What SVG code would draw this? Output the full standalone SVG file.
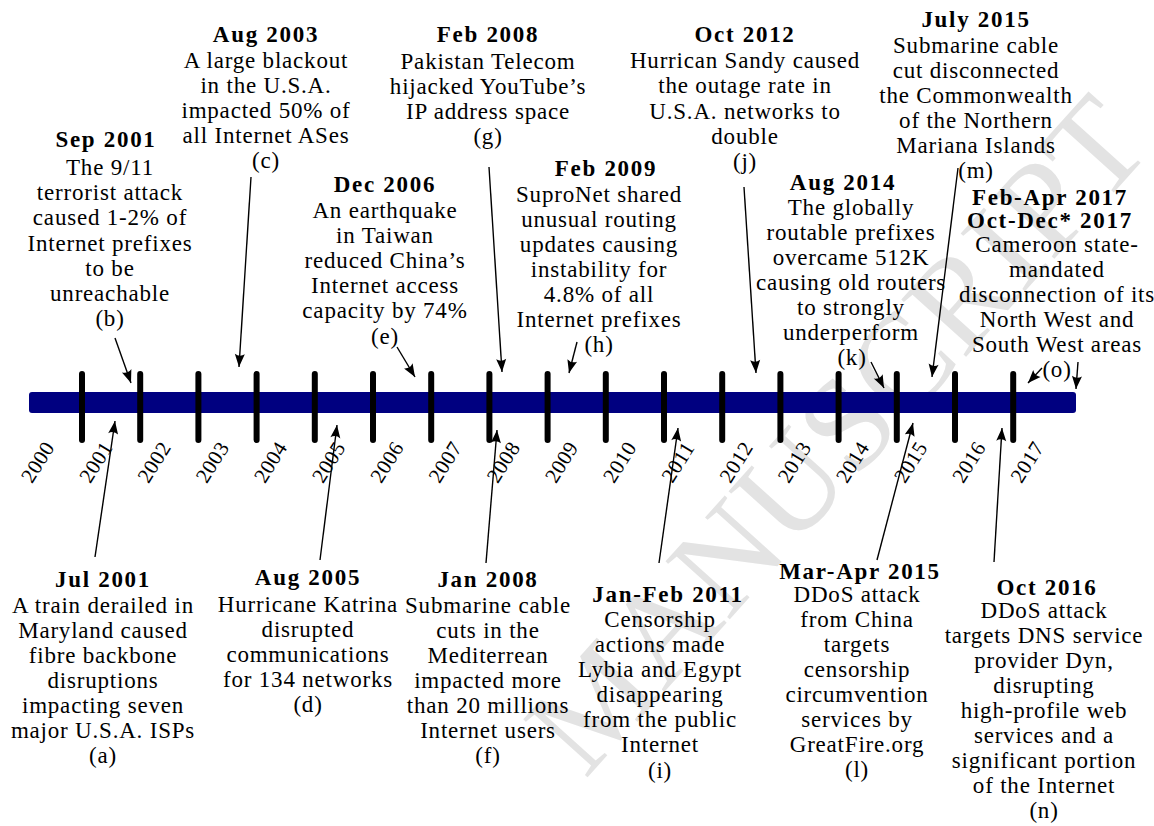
<svg xmlns="http://www.w3.org/2000/svg" width="1154" height="826" viewBox="0 0 1154 826">
  <style>
    .h { font-family: "Liberation Serif", "Times New Roman", serif; font-weight: bold; font-size: 23px; letter-spacing: 1.7px; text-anchor: middle; fill: #000; }
    .t { font-family: "Liberation Serif", "Times New Roman", serif; font-size: 23px; letter-spacing: 0.8px; text-anchor: middle; fill: #000; }
    .yr { font-family: "Liberation Serif", "Times New Roman", serif; font-size: 21px; letter-spacing: 0.5px; text-anchor: middle; fill: #000; }
    .wm { font-family: "Liberation Serif", "Times New Roman", serif; font-size: 132px; fill: #e3e3e3; }
    .arrow { stroke: #000; stroke-width: 1.4; fill: none; marker-end: url(#head); }
    .tick { stroke: #000; stroke-width: 6; stroke-linecap: round; }
  </style>
  <defs>
    <marker id="head" markerUnits="userSpaceOnUse" markerWidth="16" markerHeight="12" viewBox="-14 -6 16 12" refX="0" refY="0" orient="auto">
      <path d="M0,0 L-13,-5 Q-9.5,0 -13,5 Z" fill="#000"/>
    </marker>
  </defs>

  <rect width="1154" height="826" fill="#fff"/>

  <!-- diagonal watermark -->
  <g id="watermark" transform="translate(585,780) rotate(-48)">
    <text class="wm" x="0" y="0">MANUSCRIPT</text>
  </g>

  <!-- timeline bar, yearly ticks and year labels -->
  <g id="timeline">
    <rect x="29" y="392" width="1047" height="21" rx="3" fill="#000080"/>
    <line class="tick" x1="82" y1="374" x2="82" y2="440"/>
    <line class="tick" x1="140.2" y1="374" x2="140.2" y2="440"/>
    <line class="tick" x1="198.4" y1="374" x2="198.4" y2="440"/>
    <line class="tick" x1="256.6" y1="374" x2="256.6" y2="440"/>
    <line class="tick" x1="314.8" y1="374" x2="314.8" y2="440"/>
    <line class="tick" x1="373" y1="374" x2="373" y2="440"/>
    <line class="tick" x1="431.2" y1="374" x2="431.2" y2="440"/>
    <line class="tick" x1="489.4" y1="374" x2="489.4" y2="440"/>
    <line class="tick" x1="547.6" y1="374" x2="547.6" y2="440"/>
    <line class="tick" x1="605.8" y1="374" x2="605.8" y2="440"/>
    <line class="tick" x1="664" y1="374" x2="664" y2="440"/>
    <line class="tick" x1="722.2" y1="374" x2="722.2" y2="440"/>
    <line class="tick" x1="780.4" y1="374" x2="780.4" y2="440"/>
    <line class="tick" x1="838.6" y1="374" x2="838.6" y2="440"/>
    <line class="tick" x1="896.8" y1="374" x2="896.8" y2="440"/>
    <line class="tick" x1="955" y1="374" x2="955" y2="440"/>
    <line class="tick" x1="1013.2" y1="374" x2="1013.2" y2="440"/>
    <text class="yr" transform="translate(37.8,462) rotate(-58)" y="7">2000</text>
    <text class="yr" transform="translate(96,462) rotate(-58)" y="7">2001</text>
    <text class="yr" transform="translate(154.2,462) rotate(-58)" y="7">2002</text>
    <text class="yr" transform="translate(212.4,462) rotate(-58)" y="7">2003</text>
    <text class="yr" transform="translate(270.6,462) rotate(-58)" y="7">2004</text>
    <text class="yr" transform="translate(328.8,462) rotate(-58)" y="7">2005</text>
    <text class="yr" transform="translate(387,462) rotate(-58)" y="7">2006</text>
    <text class="yr" transform="translate(445.2,462) rotate(-58)" y="7">2007</text>
    <text class="yr" transform="translate(503.4,462) rotate(-58)" y="7">2008</text>
    <text class="yr" transform="translate(561.6,462) rotate(-58)" y="7">2009</text>
    <text class="yr" transform="translate(619.8,462) rotate(-58)" y="7">2010</text>
    <text class="yr" transform="translate(678,462) rotate(-58)" y="7">2011</text>
    <text class="yr" transform="translate(736.2,462) rotate(-58)" y="7">2012</text>
    <text class="yr" transform="translate(794.4,462) rotate(-58)" y="7">2013</text>
    <text class="yr" transform="translate(852.6,462) rotate(-58)" y="7">2014</text>
    <text class="yr" transform="translate(910.8,462) rotate(-58)" y="7">2015</text>
    <text class="yr" transform="translate(969,462) rotate(-58)" y="7">2016</text>
    <text class="yr" transform="translate(1027.2,462) rotate(-58)" y="7">2017</text>
  </g>

  <!-- arrows from each event to its point on the timeline -->
  <g id="connectors">
    <line class="arrow" x1="95" y1="557" x2="115" y2="421"/>
    <line class="arrow" x1="115" y1="338" x2="131" y2="383"/>
    <line class="arrow" x1="251" y1="177" x2="239" y2="367"/>
    <line class="arrow" x1="320" y1="560" x2="337" y2="425"/>
    <line class="arrow" x1="397" y1="347" x2="415" y2="377"/>
    <line class="arrow" x1="486" y1="563" x2="497" y2="430"/>
    <line class="arrow" x1="489" y1="167" x2="502" y2="372"/>
    <line class="arrow" x1="577" y1="342" x2="569" y2="373"/>
    <line class="arrow" x1="659" y1="563" x2="678" y2="428"/>
    <line class="arrow" x1="744" y1="187" x2="756" y2="373"/>
    <line class="arrow" x1="871" y1="362" x2="884" y2="388"/>
    <line class="arrow" x1="877" y1="560" x2="913" y2="423"/>
    <line class="arrow" x1="958" y1="168" x2="932" y2="377"/>
    <line class="arrow" x1="994" y1="562" x2="1002" y2="428"/>
    <line class="arrow" x1="1042" y1="368" x2="1028" y2="383"/>
    <line class="arrow" x1="1078" y1="362" x2="1076" y2="389"/>
  </g>

  <g id="node-a">
    <text class="h" x="103" y="587">Jul 2001</text>
    <text class="t"><tspan x="103" y="613">A train derailed in</tspan><tspan x="103" y="638">Maryland caused</tspan><tspan x="103" y="663">fibre backbone</tspan><tspan x="103" y="688">disruptions</tspan><tspan x="103" y="713">impacting seven</tspan><tspan x="103" y="738">major U.S.A. ISPs</tspan><tspan x="103" y="763">(a)</tspan></text>
  </g>

  <g id="node-b">
    <text class="h" x="106" y="147">Sep 2001</text>
    <text class="t"><tspan x="110" y="175">The 9/11</tspan><tspan x="110" y="200">terrorist attack</tspan><tspan x="110" y="225">caused 1-2% of</tspan><tspan x="110" y="250.5">Internet prefixes</tspan><tspan x="110" y="275.5">to be</tspan><tspan x="110" y="301">unreachable</tspan><tspan x="110" y="326">(b)</tspan></text>
  </g>

  <g id="node-c">
    <text class="h" x="266" y="42">Aug 2003</text>
    <text class="t"><tspan x="266" y="68">A large blackout</tspan><tspan x="266" y="93">in the U.S.A.</tspan><tspan x="266" y="118">impacted 50% of</tspan><tspan x="266" y="143">all Internet ASes</tspan><tspan x="266" y="168">(c)</tspan></text>
  </g>

  <g id="node-d">
    <text class="h" x="308" y="585">Aug 2005</text>
    <text class="t"><tspan x="308" y="612">Hurricane Katrina</tspan><tspan x="308" y="637">disrupted</tspan><tspan x="308" y="662">communications</tspan><tspan x="308" y="687">for 134 networks</tspan><tspan x="308" y="712">(d)</tspan></text>
  </g>

  <g id="node-e">
    <text class="h" x="385" y="192">Dec 2006</text>
    <text class="t"><tspan x="385" y="218">An earthquake</tspan><tspan x="385" y="243">in Taiwan</tspan><tspan x="385" y="268">reduced China’s</tspan><tspan x="385" y="293">Internet access</tspan><tspan x="385" y="318">capacity by 74%</tspan><tspan x="385" y="344">(e)</tspan></text>
  </g>

  <g id="node-f">
    <text class="h" x="488" y="587">Jan 2008</text>
    <text class="t"><tspan x="488" y="613">Submarine cable</tspan><tspan x="488" y="638">cuts in the</tspan><tspan x="488" y="663">Mediterrean</tspan><tspan x="488" y="688">impacted more</tspan><tspan x="488" y="713">than 20 millions</tspan><tspan x="488" y="738">Internet users</tspan><tspan x="488" y="763">(f)</tspan></text>
  </g>

  <g id="node-g">
    <text class="h" x="488" y="42">Feb 2008</text>
    <text class="t"><tspan x="488" y="69">Pakistan Telecom</tspan><tspan x="488" y="94">hijacked YouTube’s</tspan><tspan x="488" y="119">IP address space</tspan><tspan x="488" y="144">(g)</tspan></text>
  </g>

  <g id="node-h">
    <text class="h" x="606" y="176">Feb 2009</text>
    <text class="t"><tspan x="599" y="202">SuproNet shared</tspan><tspan x="599" y="227">unusual routing</tspan><tspan x="599" y="252">updates causing</tspan><tspan x="599" y="277">instability for</tspan><tspan x="599" y="302">4.8% of all</tspan><tspan x="599" y="327">Internet prefixes</tspan><tspan x="599" y="352">(h)</tspan></text>
  </g>

  <g id="node-i">
    <text class="h" x="668" y="602">Jan-Feb 2011</text>
    <text class="t"><tspan x="660" y="627">Censorship</tspan><tspan x="660" y="652">actions made</tspan><tspan x="660" y="677">Lybia and Egypt</tspan><tspan x="660" y="702">disappearing</tspan><tspan x="660" y="727">from the public</tspan><tspan x="660" y="752">Internet</tspan><tspan x="660" y="778">(i)</tspan></text>
  </g>

  <g id="node-j">
    <text class="h" x="745" y="42">Oct 2012</text>
    <text class="t"><tspan x="745" y="68">Hurrican Sandy caused</tspan><tspan x="745" y="93">the outage rate in</tspan><tspan x="745" y="119">U.S.A. networks to</tspan><tspan x="745" y="144">double</tspan><tspan x="745" y="169">(j)</tspan></text>
  </g>

  <g id="node-k">
    <text class="h" x="843" y="190">Aug 2014</text>
    <text class="t"><tspan x="851" y="215">The globally</tspan><tspan x="851" y="240">routable prefixes</tspan><tspan x="851" y="265">overcame 512K</tspan><tspan x="851" y="290">causing old routers</tspan><tspan x="851" y="315">to strongly</tspan><tspan x="851" y="340">underperform</tspan><tspan x="852" y="365">(k)</tspan></text>
  </g>

  <g id="node-l">
    <text class="h" x="860" y="579">Mar-Apr 2015</text>
    <text class="t"><tspan x="857" y="602">DDoS attack</tspan><tspan x="857" y="627">from China</tspan><tspan x="857" y="652">targets</tspan><tspan x="857" y="677">censorship</tspan><tspan x="857" y="702">circumvention</tspan><tspan x="857" y="727">services by</tspan><tspan x="857" y="752">GreatFire.org</tspan><tspan x="857" y="777">(l)</tspan></text>
  </g>

  <g id="node-m">
    <text class="h" x="976" y="27">July 2015</text>
    <text class="t"><tspan x="976" y="53">Submarine cable</tspan><tspan x="976" y="78">cut disconnected</tspan><tspan x="976" y="103">the Commonwealth</tspan><tspan x="976" y="128">of the Northern</tspan><tspan x="976" y="153">Mariana Islands</tspan><tspan x="976" y="178">(m)</tspan></text>
  </g>

  <g id="node-n">
    <text class="h" x="1047" y="595">Oct 2016</text>
    <text class="t"><tspan x="1044" y="618">DDoS attack</tspan><tspan x="1044" y="643">targets DNS service</tspan><tspan x="1044" y="668">provider Dyn,</tspan><tspan x="1044" y="693">disrupting</tspan><tspan x="1044" y="718">high-profile web</tspan><tspan x="1044" y="743">services and a</tspan><tspan x="1044" y="768">significant portion</tspan><tspan x="1044" y="793">of the Internet</tspan><tspan x="1044" y="818">(n)</tspan></text>
  </g>

  <g id="node-o">
    <text class="h"><tspan x="1050" y="205">Feb-Apr 2017</tspan><tspan x="1050" y="228">Oct-Dec* 2017</tspan></text>
    <text class="t"><tspan x="1057" y="252">Cameroon state-</tspan><tspan x="1057" y="277">mandated</tspan><tspan x="1057" y="302">disconnection of its</tspan><tspan x="1057" y="327">North West and</tspan><tspan x="1057" y="352">South West areas</tspan><tspan x="1057" y="377">(o)</tspan></text>
  </g>
</svg>
